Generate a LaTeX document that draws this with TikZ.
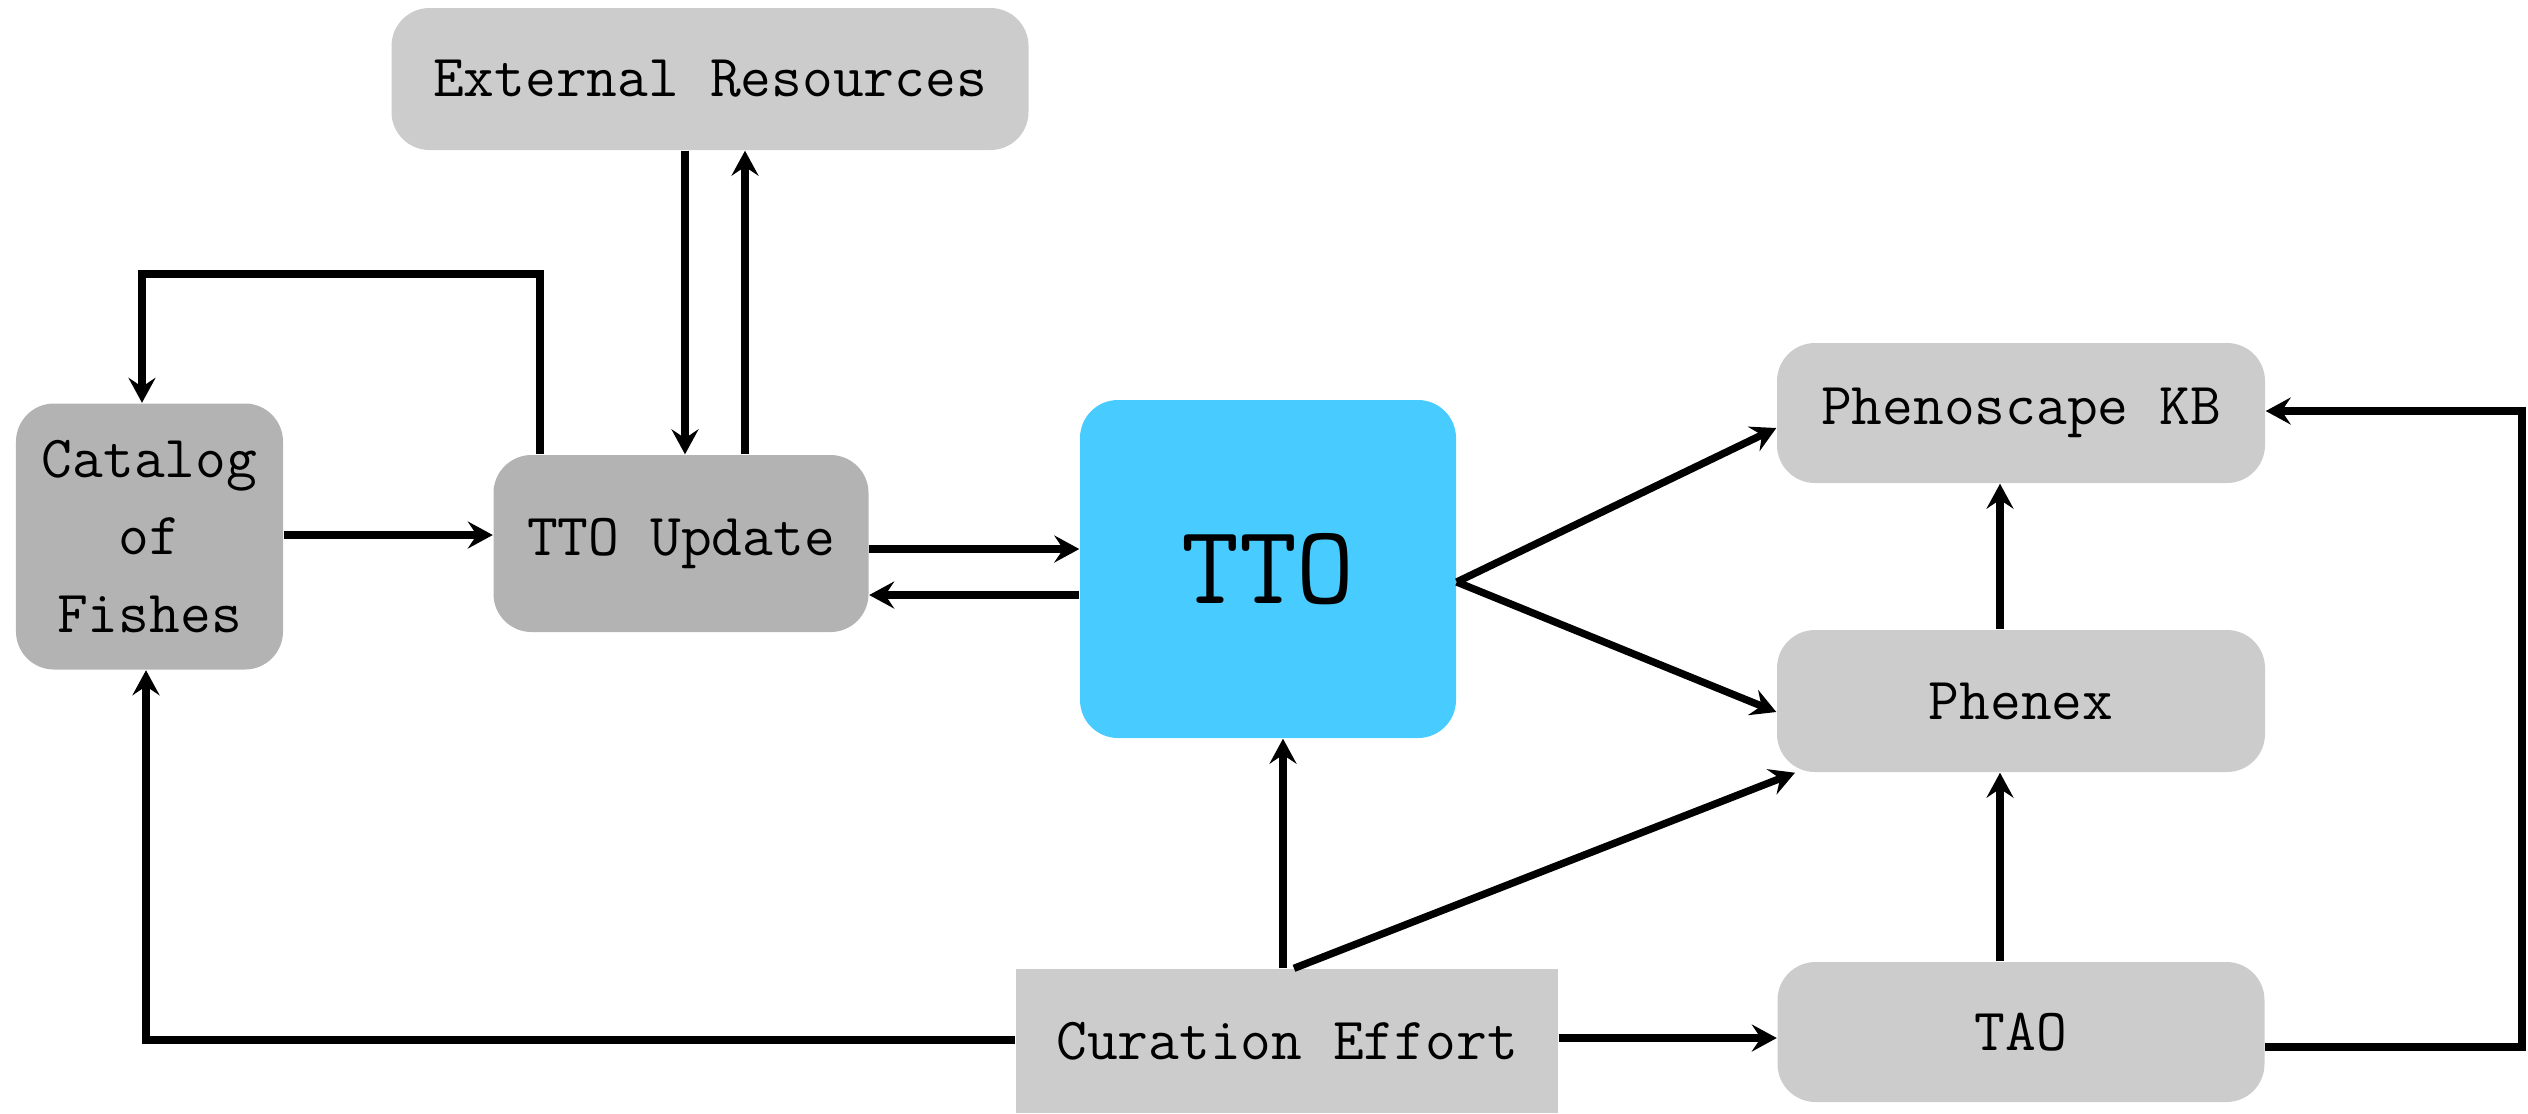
\documentclass[tikz,border=0pt]{standalone}
\usetikzlibrary{arrows.meta}
\definecolor{lightBox}{HTML}{CCCCCC}
\definecolor{darkBox}{HTML}{B3B3B3}
\definecolor{ttoBlue}{HTML}{48CCFF}
\tikzstyle{roundBox}=[shape = rectangle, rounded corners = 0.38cm, inner sep = 0pt, align = center, font = \ttfamily\fontsize{17}{22}\selectfont]
\tikzstyle{lightRound}=[roundBox, fill = lightBox]
\tikzstyle{darkRound}=[roundBox, fill = darkBox]

\begin{document}
\begin{tikzpicture}
\tikzstyle{flow}=[line width = 2.1pt, -{Stealth[length = 0.25cm, width = 0.27cm, inset = 0.09cm]}]
\useasboundingbox (0,0) rectangle (25.28,-11.13);
\node[lightRound, minimum width = 6.37cm, minimum height = 1.42cm] (ext) at (7.10,-0.79) {External Resources};
\node[darkRound, minimum width = 2.67cm, minimum height = 2.66cm] (cat) at (1.495,-5.365) {Catalog\\of\\Fishes};
\node[darkRound, minimum width = 3.75cm, minimum height = 1.77cm] (upd) at (6.81,-5.435) {TTO Update};
\node[roundBox, fill = ttoBlue, minimum width = 3.76cm, minimum height = 3.38cm, font = \ttfamily\fontsize{32}{38}\selectfont] (tto) at (12.68,-5.69) {TTO};
\node[lightRound, minimum width = 4.88cm, minimum height = 1.40cm] (kb) at (20.21,-4.13) {Phenoscape KB};
\node[lightRound, minimum width = 4.88cm, minimum height = 1.42cm] (phx) at (20.21,-7.01) {Phenex};
\node[lightRound, minimum width = 4.87cm, minimum height = 1.40cm] (tao) at (20.21,-10.32) {TAO};
\node[roundBox, rounded corners = 0pt, fill = lightBox, minimum width = 5.42cm, minimum height = 1.44cm] (cur) at (12.87,-10.41) {Curation Effort};
\coordinate (split) at (tto.east |- 0,-5.82);
\draw[flow] (6.85,0 |- ext.south) -- (6.85,0 |- upd.north);
\draw[flow] (7.45,0 |- upd.north) -- (7.45,0 |- ext.south);
\draw[flow] (5.40,0 |- upd.north) |- (1.42,-2.74) -- (1.42,0 |- cat.north);
\draw[flow] (cat.east |- 0,-5.35) -- (upd.west |- 0,-5.35);
\draw[flow] (upd.east |- 0,-5.49) -- (tto.west |- 0,-5.49);
\draw[flow] (tto.west |- 0,-5.95) -- (upd.east |- 0,-5.95);
\draw[flow] (split) -- (kb.west |- 0,-4.28);
\draw[flow] (split) -- (phx.west |- 0,-7.12);
\draw[flow] (20.00,0 |- phx.north) -- (20.00,0 |- kb.south);
\draw[flow] (20.00,0 |- tao.north) -- (20.00,0 |- phx.south);
\draw[flow] (tao.east |- 0,-10.47) -| (25.22,-4.11) -- (kb.east |- 0,-4.11);
\draw[flow] (12.83,0 |- cur.north) -- (12.83,0 |- tto.south);
\draw[flow] (12.94,0 |- cur.north) -- (17.95,0 |- phx.south);
\draw[flow] (cur.east |- 0,-10.38) -- (tao.west |- 0,-10.38);
\draw[flow] (cur.west |- 0,-10.40) -| (1.46,0 |- cat.south);
\end{tikzpicture}
\end{document}
